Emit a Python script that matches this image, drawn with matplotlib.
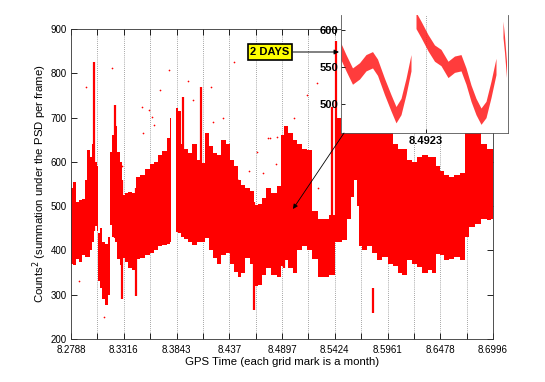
import numpy as np
import matplotlib
matplotlib.use("Agg")
import matplotlib.pyplot as plt

plt.rcParams['font.family'] = ['Liberation Sans', 'DejaVu Sans']

# ---- main series: dense envelope (GPS time x1e8, counts^2) ----
t_env = [8.2788, 8.2818, 8.2848, 8.2878, 8.2908, 8.2938, 8.2967, 8.2987, 8.3007, 8.3027,
         8.3037, 8.3052, 8.3062, 8.3087, 8.3117, 8.3147, 8.3172, 8.3182, 8.3207, 8.3237,
         8.3257, 8.3287, 8.3316, 8.3346, 8.3376, 8.3416, 8.3456, 8.3496, 8.3546, 8.3596,
         8.3636, 8.3675, 8.3725, 8.3765, 8.3785, 8.3805, 8.3835, 8.3865, 8.3895, 8.3925,
         8.3975, 8.4024, 8.4074, 8.4104, 8.4144, 8.4184, 8.4224, 8.4264, 8.4304, 8.4354,
         8.4393, 8.4433, 8.4473, 8.4503, 8.4543, 8.4593, 8.4633, 8.4673, 8.4712, 8.4752,
         8.4822, 8.4872, 8.4902, 8.4922, 8.4972, 8.5022, 8.5071, 8.5121, 8.5171, 8.5221,
         8.5271, 8.5331, 8.5381, 8.5460, 8.5520, 8.5570, 8.5600, 8.5620, 8.5650, 8.5670,
         8.5719, 8.5769, 8.5819, 8.5869, 8.5919, 8.5969, 8.6019, 8.6069, 8.6118, 8.6168,
         8.6218, 8.6268, 8.6318, 8.6368, 8.6417, 8.6447, 8.6487, 8.6537, 8.6587, 8.6637,
         8.6687, 8.6737, 8.6786, 8.6846, 8.6906, 8.6966, 8.6996]
hi_env = [540, 555, 510, 515, 517, 560, 627, 610, 640, 600,
          600, 590, 440, 450, 420, 415, 430, 623, 660, 680,
          623, 600, 525, 530, 533, 530, 565, 570, 585, 595,
          600, 616, 625, 653, 700, np.nan, 721, 715, 640, 630,
          620, 640, 604, 597, 665, 635, 620, 615, 650, 640,
          604, 590, 560, 548, 540, 535, 503, 505, 518, 540,
          530, 545, 661, 680, 665, 650, 640, 630, 627, 490,
          472, 470, 480, 700, 700, 700, 700, 700, 700, 700,
          700, 700, 700, 700, 700, 700, 640, 630, 630, 605,
          600, 610, 615, 610, 612, 590, 580, 570, 565, 570,
          575, 700, 700, 700, 640, 630, 630]
lo_env = [370, 367, 380, 375, 390, 385, 385, 400, 420, 450,
          455, 445, 330, 315, 290, 277, 300, 457, 430, 420,
          380, 367, 382, 375, 360, 355, 380, 382, 390, 395,
          400, 410, 412, 415, 420, np.nan, 442, 440, 430, 425,
          420, 412, 420, 420, 427, 400, 382, 370, 390, 395,
          370, 352, 340, 350, 382, 370, 320, 322, 345, 360,
          345, 340, 365, 378, 360, 350, 400, 410, 400, 380,
          340, 340, 345, 420, 424, 470, 520, 560, 500, 410,
          400, 409, 395, 378, 385, 370, 365, 348, 345, 378,
          370, 363, 350, 355, 348, 393, 390, 378, 380, 385,
          378, 430, 453, 460, 470, 469, 470]

# ---- narrow spikes (time, low, high) ----
spike_t = [8.3017, 8.3222, 8.3297, 8.3436, 8.3905, 8.4089, 8.4608, 8.4912, 8.5395, 8.5435, 8.5804]
spike_lo = [445, 427, 290, 296, 430, 420, 266, 360, 385, 420, 258]
spike_hi = [826, 728, 560, 540, 747, 770, 510, 661, 724, 873, 315]

# ---- isolated outliers ----
out_t = [8.2935, 8.3200, 8.3768, 8.3951, 8.4187, 8.4416, 8.3672, 8.3493, 8.3566, 8.3593,
         8.3616, 8.3503, 8.4755, 8.4000, 8.4640, 8.4832, 8.5238, 8.5138, 8.4772, 8.4839,
         8.3300, 8.4300, 8.4450, 8.4560, 8.4700, 8.5010, 8.5250, 8.3120, 8.2870, 8.4200]
out_v = [770, 812, 807, 783, 770, 825, 762, 723, 717, 702,
         683, 665, 653, 740, 623, 595, 777, 751, 653, 657,
         590, 700, 560, 580, 575, 700, 540, 250, 330, 690]

# ---- inset (2 days zoom) ----
in_t = [8.49062, 8.49072, 8.49085, 8.49099, 8.49112, 8.49125, 8.49135, 8.49149, 8.49162,
        8.49172, 8.49182, 8.49192, 8.49202, 8.49207, 8.49212, 8.49222, 8.49236, 8.49249,
        8.49262, 8.49276, 8.49289, 8.49302, 8.49312, 8.49322, 8.49332, 8.49342, 8.49352,
        8.49362, 8.49372, 8.49379, 8.49386, 8.49389, 8.49393]
in_v = [570, 555, 537, 544, 555, 559, 549, 523, 501,
        485, 496, 523, 555, np.nan, 612, 600, 582, 568,
        562, 546, 553, 555, 537, 514, 496, 483, 492,
        519, 550, np.nan, 600, 580, 546]
in_halfwidth = 11

x_tick_labels = ['8.2788', '', '8.3316', '', '8.3843', '', '8.437', '', '8.4897', '',
                 '8.5424', '', '8.5961', '', '8.6478', '', '8.6996']
x_start, x_end = 8.2788, 8.6996
y_ticks = [200, 300, 400, 500, 600, 700, 800, 900]
inset_yticks = [500, 550, 600]
inset_xtick = 8.4923

fig = plt.figure(figsize=(5.45, 3.82), dpi=100)
W, H = 545, 382
ax = fig.add_axes([71 / W, (H - 339) / H, 422 / W, 310 / H])

te = np.array(t_env); he = np.array(hi_env, float); le = np.array(lo_env, float)
ax.fill_between(te, le, he, color='#ff0000', linewidth=0, step='mid', zorder=2)
ax.vlines(spike_t, spike_lo, spike_hi, color='#ff0000', linewidth=1.6, zorder=2)
ax.scatter(out_t, out_v, s=1.5, color='#ff0000', linewidths=0, zorder=2)

month_ticks = np.linspace(x_start, x_end, len(x_tick_labels))
ax.set_xlim(x_start, x_end)
ax.set_ylim(200, 900)
ax.set_xticks(month_ticks)
ax.set_xticklabels(x_tick_labels)
ax.set_yticks(y_ticks)
for xm in month_ticks[1:-1]:
    ax.axvline(xm, color='#555555', linestyle=(0, (1, 2)), linewidth=0.5, zorder=1)
ax.tick_params(direction='in', length=4, width=0.6, top=True, right=True,
               labelsize=7, colors='black')
ax.tick_params(axis='x', pad=4)
ax.tick_params(axis='y', pad=3)
for s in ax.spines.values():
    s.set_linewidth(0.6)
    s.set_color('#333333')
ax.set_xlabel('GPS Time (each grid mark is a month)', fontsize=8.2, labelpad=2)
ax.set_ylabel('Counts$^2$ (summation under the PSD per frame)', fontsize=8.2, labelpad=1)

# inset
axi = fig.add_axes([341 / W, (H - 133) / H, 167 / W, 118 / H])
axi.set_facecolor('white')
ti = np.array(in_t); vi = np.array(in_v, float)
axi.fill_between(ti, vi - in_halfwidth, vi + in_halfwidth, color='#ff1a1a', alpha=0.85,
                 linewidth=0)
axi.set_xlim(8.49061, 8.49395)
axi.set_ylim(461, 620)
axi.set_yticks(inset_yticks)
axi.set_xticks([inset_xtick])
axi.set_xticklabels(['8.4923'])
axi.axvline(inset_xtick, color='#555555', linestyle=(0, (1, 2)), linewidth=0.5, zorder=0)
axi.tick_params(direction='in', length=3, width=0.6, labelsize=8, pad=2)
for lab in axi.get_xticklabels() + axi.get_yticklabels():
    lab.set_fontweight('bold')
axi.spines['top'].set_visible(False)
for s in ['left', 'bottom', 'right']:
    axi.spines[s].set_linewidth(0.6)
    axi.spines[s].set_color('#555555')

# annotations in figure pixels
fig.add_artist(matplotlib.text.Annotation(
    '2 DAYS', xy=(339, H - 52), xycoords='figure pixels',
    xytext=(270, H - 52), textcoords='figure pixels',
    ha='center', va='center', fontsize=8, fontweight='bold',
    bbox=dict(boxstyle='square,pad=0.25', fc='#ffff00', ec='black', lw=1.2),
    arrowprops=dict(arrowstyle='-|>', color='black', lw=0.7, mutation_scale=7,
                    shrinkA=0, shrinkB=0)))
fig.add_artist(matplotlib.text.Annotation(
    '', xy=(293, H - 209), xycoords='figure pixels',
    xytext=(344, H - 133), textcoords='figure pixels',
    arrowprops=dict(arrowstyle='-|>', color='black', lw=0.6, mutation_scale=7,
                    shrinkA=0, shrinkB=0)))

fig.savefig('out.png', dpi=100)
